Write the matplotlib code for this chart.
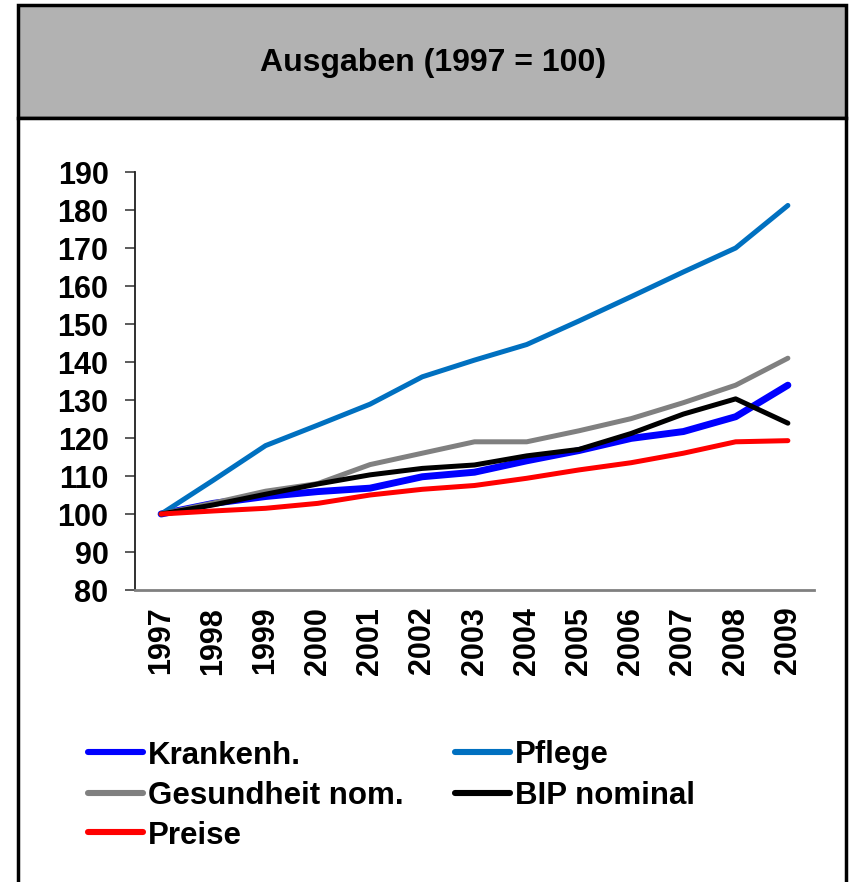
import matplotlib.pyplot as plt
from matplotlib.patches import Rectangle
from matplotlib.lines import Line2D

plt.rcParams['font.family'] = ['Liberation Sans', 'DejaVu Sans']
plt.rcParams['font.weight'] = 'bold'

years = ['1997', '1998', '1999', '2000', '2001', '2002', '2003',
         '2004', '2005', '2006', '2007', '2008', '2009']
krankenh = [100, 102.8, 104.6, 105.9, 106.8, 109.8, 111.0, 114.0, 116.7, 119.9, 121.7, 125.6, 133.9]
pflege = [100, 108.9, 118.0, 123.4, 128.9, 136.1, 140.5, 144.6, 150.8, 157.2, 163.7, 170.0, 181.2]
gesundheit = [100, 102.9, 106.0, 108.0, 113.0, 116.0, 119.0, 119.0, 121.9, 125.1, 129.3, 133.9, 141.0]
bip = [100, 102.4, 105.2, 107.9, 110.3, 112.0, 112.9, 115.3, 117.0, 121.2, 126.3, 130.3, 123.9]
preise = [100, 100.8, 101.5, 102.8, 105.0, 106.5, 107.5, 109.4, 111.6, 113.5, 116.0, 119.0, 119.3]

names = ['Krankenh.', 'Pflege', 'Gesundheit nom.', 'BIP nominal', 'Preise']
series = [krankenh, pflege, gesundheit, bip, preise]
colors = ['#0000FF', '#0070C0', '#808080', '#000000', '#FF0000']
widths = [5.0, 3.6, 3.6, 3.6, 3.6]

W, H = 849, 882
fig = plt.figure(figsize=(W / 100, H / 100), dpi=100)


def fx(px):
    return px / W


def fy(py):
    return 1 - py / H


# frame: grey title box and white body box
fig.patches.append(Rectangle((fx(18), fy(118)), fx(846) - fx(18), fy(5) - fy(118),
                             transform=fig.transFigure, facecolor='#B2B2B2',
                             edgecolor='black', linewidth=2.5, zorder=-2))
fig.patches.append(Rectangle((fx(18), fy(890)), fx(846) - fx(18), fy(118) - fy(890),
                             transform=fig.transFigure, facecolor='white',
                             edgecolor='black', linewidth=2.5, zorder=-2))
fig.text(fx(433), fy(63), 'Ausgaben (1997 = 100)', ha='center', va='center',
         fontsize=23, fontweight='bold')

ax = fig.add_axes([fx(135), fy(590), fx(814) - fx(135), fy(172) - fy(590)])
ax.set_zorder(2)
ax.patch.set_alpha(0)
x = list(range(len(years)))
for vals, c, lw in zip(series, colors, widths):
    ax.plot(x, vals, color=c, linewidth=lw, solid_capstyle='round', solid_joinstyle='round')

ax.set_xlim(-0.5, len(years) - 0.5)
ax.set_ylim(80, 190)
ax.set_yticks(range(80, 191, 10))
ax.set_xticks(x)
ax.set_xticklabels(years, rotation=90, fontsize=22, fontweight='bold')
ax.tick_params(axis='y', labelsize=22, length=7, width=1.2, color='#404040', pad=12)
ax.tick_params(axis='x', length=0, pad=12)
for lab in ax.get_yticklabels():
    lab.set_fontweight('bold')
for s in ['top', 'right']:
    ax.spines[s].set_visible(False)
ax.spines['left'].set_color('#202020')
ax.spines['bottom'].set_color('#808080')
ax.spines['left'].set_linewidth(1.3)
ax.spines['bottom'].set_linewidth(2)

# legend, two columns
legend_pos = {0: (88, 752), 2: (88, 793), 4: (88, 832), 1: (455, 752), 3: (455, 793)}
for i, (px, py) in legend_pos.items():
    fig.add_artist(Line2D([fx(px), fx(px + 55)], [fy(py), fy(py)], transform=fig.transFigure,
                          color=colors[i], linewidth=4.4, solid_capstyle='round'))
    fig.text(fx(px + 60), fy(py), names[i], ha='left', va='center_baseline',
             fontsize=22.5, fontweight='bold')

fig.savefig('out.png', dpi=100)
